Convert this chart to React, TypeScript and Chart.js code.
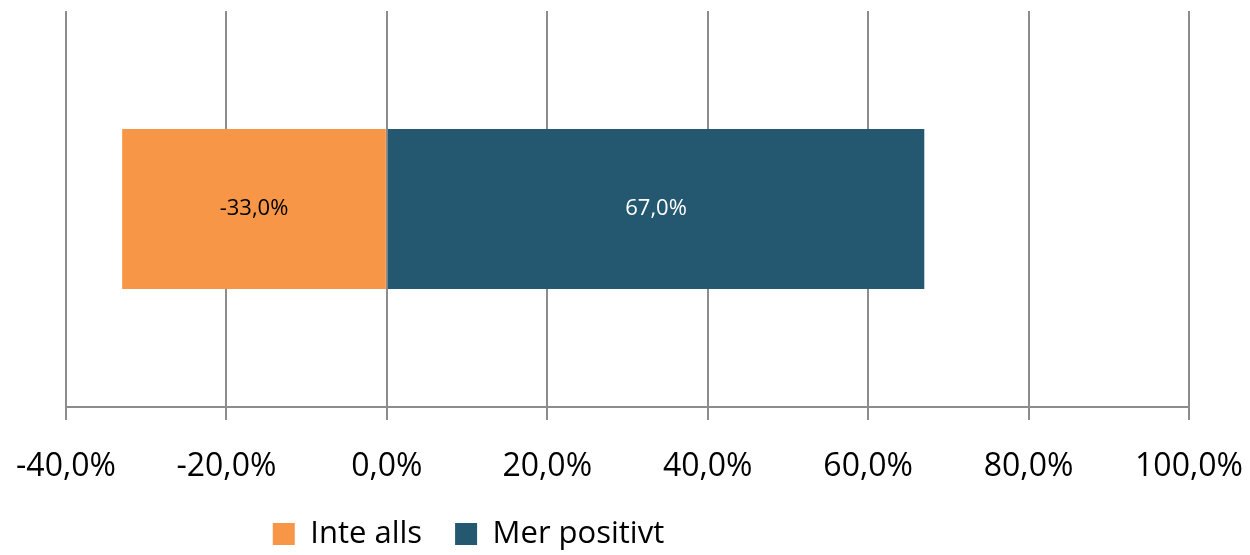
import React, { useEffect, useRef } from "react";
import { Chart, registerables } from "chart.js";

Chart.register(...registerables);

const categories = [""];
const seriesNames = ["Inte alls", "Mer positivt"];
const inteAlls = [-33.0];
const merPositivt = [67.0];
const seriesColors = ["#F79646", "#235870"];
const labelColors = ["#000000", "#FFFFFF"];
const xMin = -40;
const xMax = 100;
const xStep = 20;

const FONT = "'Open Sans', 'DejaVu Sans', sans-serif";
const LEGEND_PAD = 33;
const LEGEND_FONT = 31;
const X_AXIS_HEIGHT = 82;
const LEGEND_HEIGHT = 555 - 407 - X_AXIS_HEIGHT;

const fmt = (v: number) => v.toFixed(1).replace(".", ",") + "%";

const barLabels = {
  id: "barLabels",
  afterDatasetsDraw(chart: any) {
    const ctx = chart.ctx;
    ctx.save();
    ctx.font = `22px ${FONT}`;
    ctx.textAlign = "center";
    ctx.textBaseline = "middle";
    chart.data.datasets.forEach((ds: any, i: number) => {
      const meta = chart.getDatasetMeta(i);
      meta.data.forEach((bar: any, j: number) => {
        const v = ds.data[j];
        const x = (bar.x + bar.base) / 2;
        ctx.fillStyle = labelColors[i];
        ctx.fillText(fmt(v), x, bar.y);
      });
    });
    ctx.restore();
  },
};

const legendPlacer = {
  id: "legendPlacer",
  afterLayout(chart: any) {
    const lg = chart.legend;
    if (!lg) return;
    const dx = -159;
    const newTop = 485.5;
    const dy = newTop - lg.top;
    lg.left += dx;
    lg.right += dx;
    lg.top += dy;
    lg.bottom += dy;
    if (lg.legendHitBoxes) {
      lg.legendHitBoxes.forEach((b: any) => {
        b.left += dx;
        b.top += dy;
      });
    }
  },
};

export default function App() {
  const ref = useRef<HTMLCanvasElement | null>(null);
  useEffect(() => {
    if (!ref.current) return;
    const chart = new Chart(ref.current, {
      type: "bar",
      data: {
        labels: categories,
        datasets: [
          {
            label: seriesNames[0],
            data: inteAlls,
            backgroundColor: seriesColors[0],
            borderWidth: 0,
            barPercentage: 0.404,
            categoryPercentage: 1,
          },
          {
            label: seriesNames[1],
            data: merPositivt,
            backgroundColor: seriesColors[1],
            borderWidth: 0,
            barPercentage: 0.404,
            categoryPercentage: 1,
          },
        ],
      },
      options: {
        indexAxis: "y",
        responsive: false,
        maintainAspectRatio: false,
        animation: false,
        layout: { padding: { left: 66, right: 61, top: 11, bottom: 0 } },
        scales: {
          x: {
            stacked: true,
            min: xMin,
            max: xMax,
            afterFit: (scale: any) => {
              scale.paddingLeft = 0;
              scale.paddingRight = 0;
              scale.height = X_AXIS_HEIGHT;
            },
            ticks: {
              stepSize: xStep,
              callback: (v: any) => fmt(Number(v)),
              font: { family: FONT, size: 32 },
              color: "#000000",
              padding: 28,
              maxRotation: 0,
            },
            grid: {
              color: "#8C8C8C",
              lineWidth: 2,
              tickLength: 13,
              drawTicks: true,
            },
            border: { display: true, color: "#8C8C8C", width: 2 },
          },
          y: {
            stacked: true,
            display: false,
          },
        },
        plugins: {
          legend: {
            position: "bottom",
            maxHeight: LEGEND_HEIGHT,
            labels: {
              font: { family: FONT, size: LEGEND_FONT },
              color: "#000000",
              boxWidth: 22,
              boxHeight: 22,
              padding: LEGEND_PAD,
            },
          },
          tooltip: { enabled: false },
        },
      },
      plugins: [barLabels, legendPlacer],
    } as any);
    return () => chart.destroy();
  }, []);
  return (
    <div style={{ position: "absolute", left: 0, top: 0, width: 1250, height: 555, background: "#fff" }}>
      <canvas ref={ref} width={1250} height={555} style={{ width: 1250, height: 555 }} />
    </div>
  );
}
